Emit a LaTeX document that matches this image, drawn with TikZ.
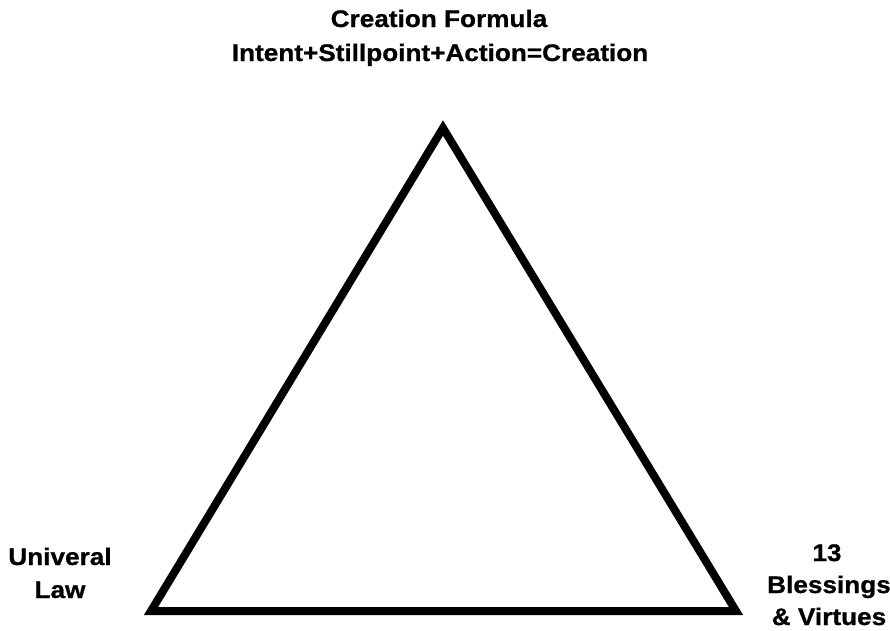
\documentclass[tikz,border=0pt]{standalone}
\usepackage{fontspec}
\setmainfont{Liberation Sans}[FakeStretch=1.09,BoldFeatures={FakeBold=0.8}]
\begin{document}
\begin{tikzpicture}[x=1pt,y=-1pt,
  lbl/.style={font=\bfseries\fontsize{24}{33}\selectfont, align=center, inner sep=0pt, anchor=base},
  tri/.style={line width=8pt, line join=miter, draw=black}]
\useasboundingbox (0,0) rectangle (890,630);
\coordinate (A) at (443,128);
\coordinate (B) at (151,611);
\coordinate (C) at (736,611);
\draw[tri] (A) -- (B) -- (C) -- cycle;
\node[lbl] (t1) at (439,27) {Creation Formula};
\node[lbl] (t2) at (440,61) {Intent+Stillpoint+Action=Creation};
\node[lbl] (l1) at (60,565) {Univeral};
\node[lbl] (l2) at (60,598) {Law};
\node[lbl] (r1) at (827,561) {13};
\node[lbl] (r2) at (829,593) {Blessings};
\node[lbl] (r3) at (829,625) {\& Virtues};
\end{tikzpicture}
\end{document}
